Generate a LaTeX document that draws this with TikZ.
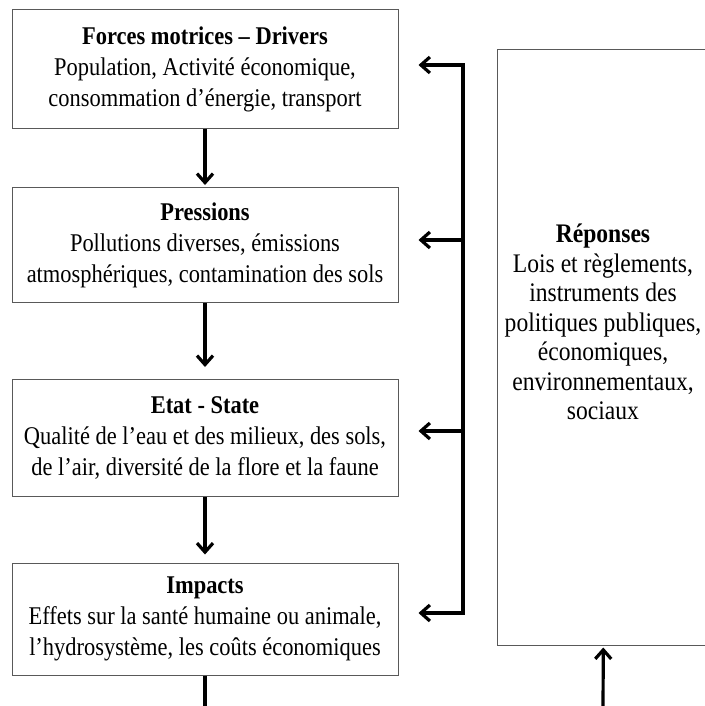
\documentclass[tikz,border=0pt]{standalone}
\usepackage{fontspec}
\setmainfont{Liberation Serif}[FakeStretch=0.88]
\usetikzlibrary{arrows.meta}

\begin{document}
\begin{tikzpicture}[
  x=1pt, y=-1pt,
  >={Straight Barb[length=9pt, width=16pt]},
  box/.style={draw=black!65, line width=1pt, minimum width=386pt,
    align=center, font=\fontsize{25.5}{31}\selectfont, inner sep=0pt},
  arr/.style={->, line width=3.2pt},
]

\useasboundingbox (0,0) rectangle (704,706);

% === DPSIR chain ===
\node[box, minimum height=118pt] (drivers) at (205,69)
  {\textbf{Forces motrices -- Drivers}\\ Population, Activité économique,\\ consommation d’énergie, transport};
\node[box, minimum height=115pt] (pressions) at (205,245)
  {\textbf{Pressions}\\ Pollutions diverses, émissions\\ atmosphériques, contamination des sols};
\node[box, minimum height=117pt] (etat) at (205,438)
  {\textbf{Etat - State}\\ Qualité de l’eau et des milieux, des sols,\\ de l’air, diversité de la flore et la faune};
\node[box, minimum height=112pt] (impacts) at (205,619)
  {\textbf{Impacts}\\ Effets sur la santé humaine ou animale,\\ l’hydrosystème, les coûts économiques};

% Arrows down the chain
\draw[arr, shorten >=2pt] (drivers) -- (pressions);
\draw[arr, shorten >=12pt] (pressions) -- (etat);
\draw[arr, shorten >=8pt] (etat) -- (impacts);
\coordinate (outL) at (205,712);
\draw[line width=3.2pt] (impacts) -- (outL);

% === Responses ===
\node[draw=black!65, line width=1pt, minimum width=215pt, minimum height=595pt] (reponses) at (604.5,347.5) {};
\node[align=center, font=\fontsize{26.8}{29.5}\selectfont] (reptxt) at (603,322)
  {\textbf{Réponses}\\ Lois et règlements,\\ instruments des\\ politiques publiques,\\ économiques,\\ environnementaux,\\ sociaux};
\coordinate (outR) at (603,712);
\draw[arr, shorten >=2pt] (outR) -- (reponses);

% Feedback to every box
\coordinate (fbx) at (463,0);
\draw[arr, shorten >=20pt] ([yshift=5pt]impacts.east -| fbx) -- ([yshift=4pt]drivers.east -| fbx) -- ([yshift=4pt]drivers.east);
\draw[arr, shorten >=20pt] ([yshift=4pt]drivers.east -| fbx) |- ([yshift=6pt]impacts.east);
\foreach \n/\dy in {pressions/5pt, etat/7pt}
  \draw[arr, shorten >=20pt] ([yshift=\dy]\n.east -| fbx) -- ([yshift=\dy]\n.east);

\end{tikzpicture}
\end{document}
